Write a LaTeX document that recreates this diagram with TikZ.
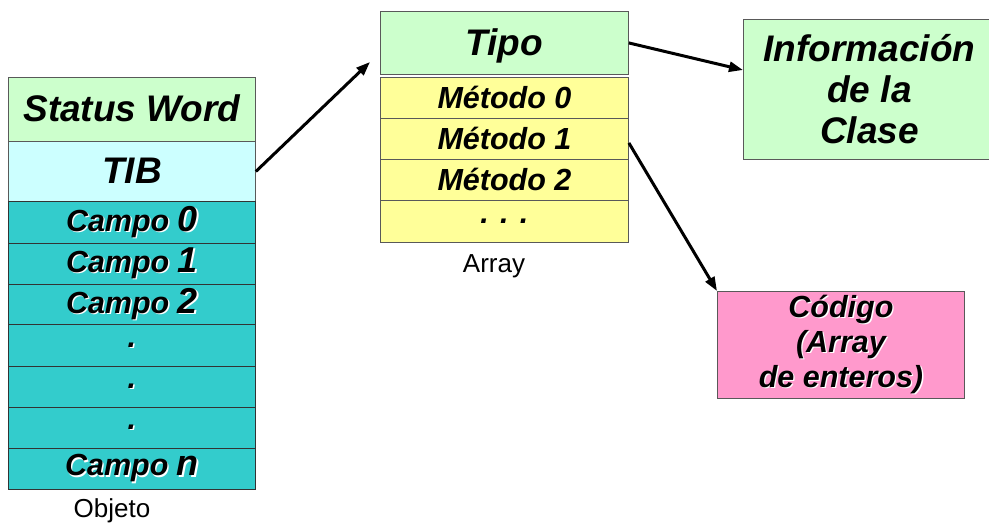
\documentclass[tikz,border=0pt]{standalone}
\usepackage{fontspec}
\setmainfont{Liberation Sans}
\usetikzlibrary{arrows.meta}

\definecolor{paleGreen}{RGB}{204,255,204}
\definecolor{paleCyan}{RGB}{204,255,255}
\definecolor{fieldTeal}{RGB}{51,204,204}
\definecolor{methodYellow}{RGB}{255,255,153}
\definecolor{codePink}{RGB}{255,153,204}

% text with a light drop shadow
\newcommand\shtxt[1]{\makebox[0pt][l]{\hspace{1.3pt}\raisebox{-1.3pt}{\color{white}#1}}#1}
\newcommand\bigdigit[1]{{\fontsize{36}{40}\selectfont #1}}

\begin{document}
\begin{tikzpicture}[x=1pt,y=-1pt,
  cell/.style={draw=black!65, line width=0.9pt, inner sep=0pt, anchor=north west,
               font=\bfseries\itshape, align=center},
  bigtxt/.style={font=\fontsize{37}{41}\selectfont\bfseries\itshape},
  midtxt/.style={font=\fontsize{30.5}{35}\selectfont\bfseries\itshape},
  caption/.style={font=\fontsize{26}{30}\selectfont},
  arr/.style={line width=3pt, -{Triangle[length=14pt,width=10pt]}}]

\useasboundingbox (0,0) rectangle (989,525);
\fill[white] (0,0) rectangle (989,525);

% ---- object layout ----
\node[cell, bigtxt, fill=paleGreen, minimum width=247pt, minimum height=64pt, text depth=2pt] (sw) at (8,77) {Status Word};
\node[cell, bigtxt, fill=paleCyan,  minimum width=247pt, minimum height=60pt, text depth=2pt] (tib) at (8,141) {TIB};
\node[cell, midtxt, fill=fieldTeal, draw=black!80, minimum width=247pt, minimum height=42pt] (c0) at (8,201) {\shtxt{Campo \bigdigit{0}}};
\node[cell, midtxt, fill=fieldTeal, draw=black!80, minimum width=247pt, minimum height=41pt] (c1) at (8,243) {\shtxt{Campo \bigdigit{1}}};
\node[cell, midtxt, fill=fieldTeal, draw=black!80, minimum width=247pt, minimum height=40pt] (c2) at (8,284) {\shtxt{Campo \bigdigit{2}}};
\node[cell, midtxt, fill=fieldTeal, draw=black!80, minimum width=247pt, minimum height=42pt] (d1) at (8,324) {\shtxt{.}};
\node[cell, midtxt, fill=fieldTeal, draw=black!80, minimum width=247pt, minimum height=41pt] (d2) at (8,366) {\shtxt{.}};
\node[cell, midtxt, fill=fieldTeal, draw=black!80, minimum width=247pt, minimum height=41pt] (d3) at (8,407) {\shtxt{.}};
\node[cell, midtxt, fill=fieldTeal, draw=black!80, minimum width=247pt, minimum height=41pt] (cn) at (8,448) {\shtxt{Campo \bigdigit{n}}};
\node[caption] (objeto) at (112,511) {Objeto};

% ---- type descriptor ----
\node[cell, bigtxt, fill=paleGreen, minimum width=248pt, minimum height=63pt, text depth=2pt] (tipo) at (380,11) {Tipo};
\node[cell, midtxt, fill=methodYellow, minimum width=248pt, minimum height=41pt] (m0) at (380,77) {Método 0};
\node[cell, midtxt, fill=methodYellow, minimum width=248pt, minimum height=41pt] (m1) at (380,118) {Método 1};
\node[cell, midtxt, fill=methodYellow, minimum width=248pt, minimum height=41pt] (m2) at (380,159) {Método 2};
\node[cell, midtxt, fill=methodYellow, minimum width=248pt, minimum height=42pt] (mdots) at (380,200) {. . .};
\node[caption] (array) at (494,266) {Array};

% ---- class info and code ----
\node[cell, bigtxt, fill=paleGreen, minimum width=252pt, minimum height=140pt] (info) at (743,19)
  {Información\\de la\\Clase};
\node[cell, midtxt, fill=codePink, minimum width=247pt, minimum height=107pt] (code) at (717,291)
  {\shtxt{Código}\\\shtxt{(Array}\\\shtxt{de enteros)}};

% ---- pointers ----
\coordinate (tipoIn) at (370,62);
\coordinate (infoIn) at (743,70);
\draw[arr] (tib.east) -- (tipoIn);
\draw[arr] (tipo.east) -- (infoIn);
\draw[arr] ([yshift=-4pt]m1.east) -- (code.north west);
\end{tikzpicture}
\end{document}
